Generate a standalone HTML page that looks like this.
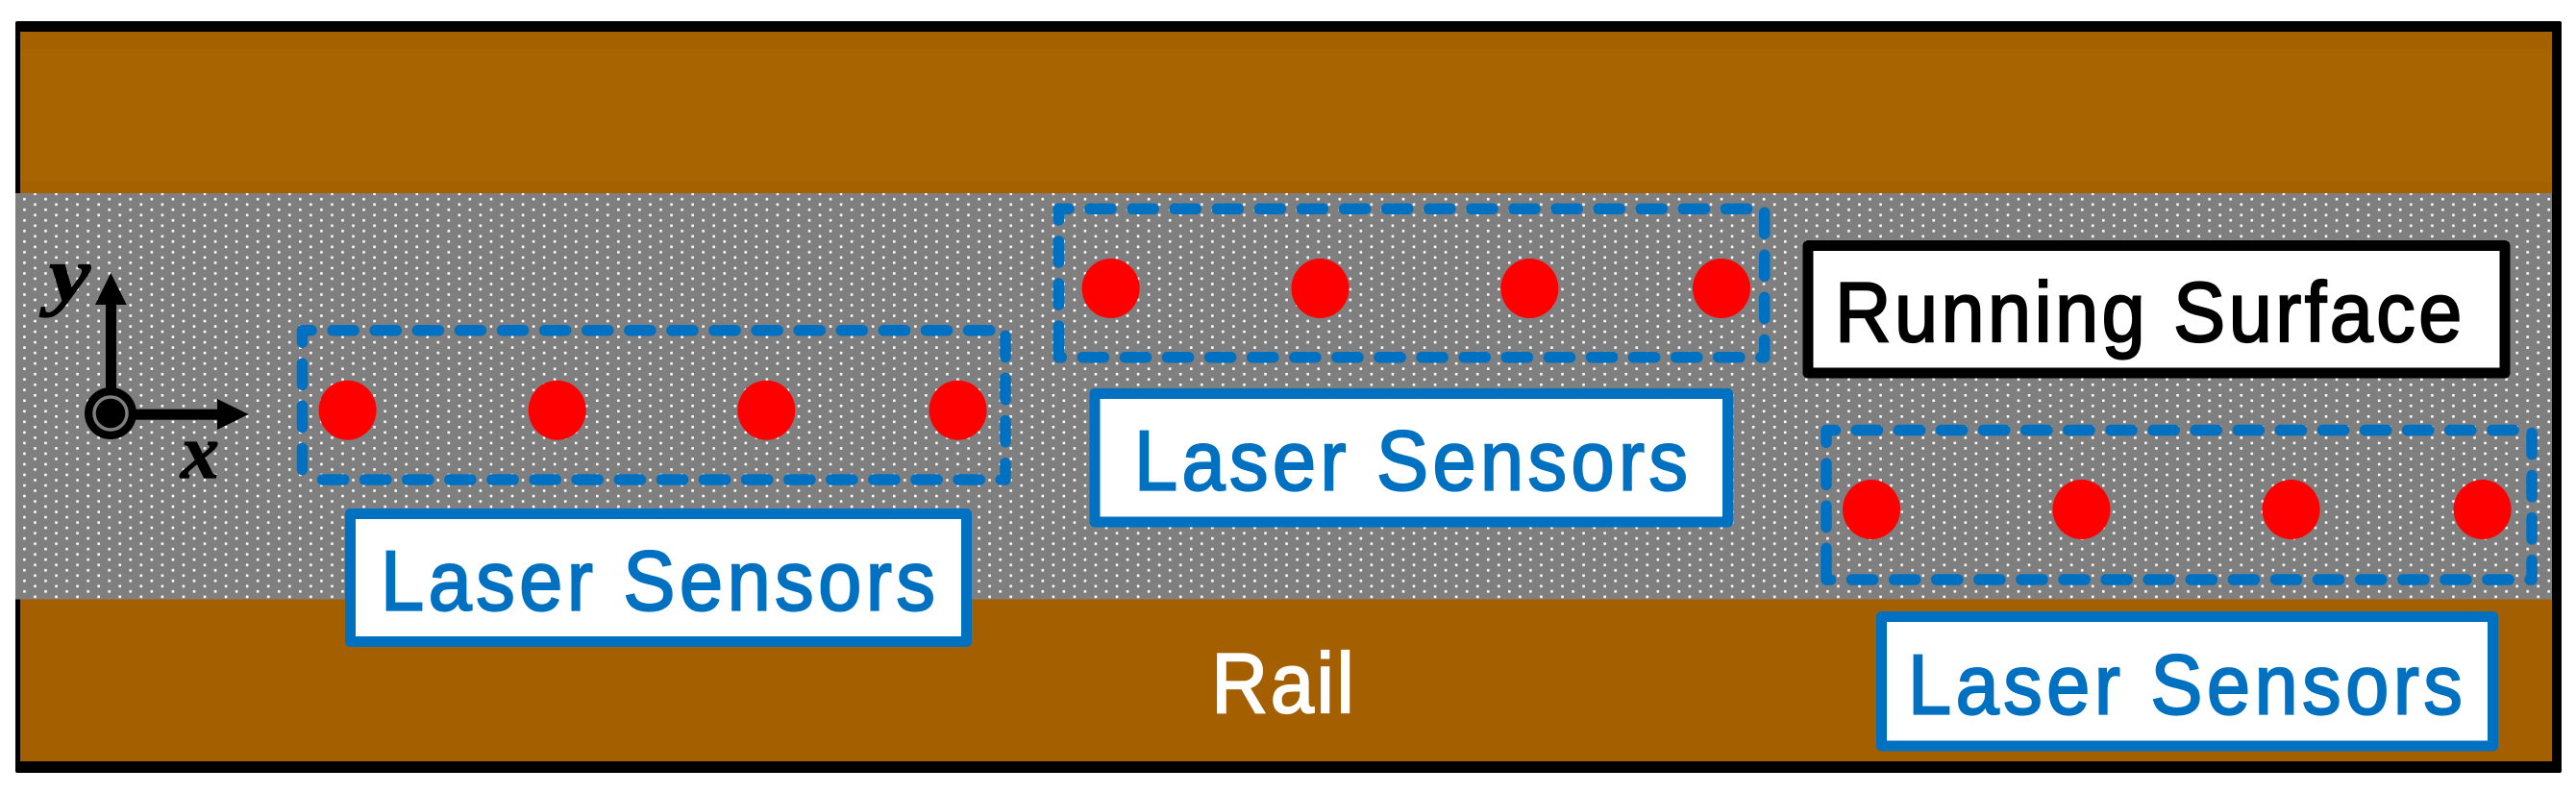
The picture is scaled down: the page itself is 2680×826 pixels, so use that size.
<!DOCTYPE html>
<html>
<head>
<meta charset="utf-8">
<title>Laser Sensors on Rail Running Surface</title>
<style>
html,body{margin:0;padding:0;background:#fff;width:2680px;height:826px;overflow:hidden}
svg{display:block}
.t{font-family:"Liberation Sans",sans-serif;font-size:88px}
.d{fill:none;stroke:#0070C0;stroke-width:11.5;stroke-linecap:round;stroke-linejoin:round;stroke-dasharray:22.1 22}
</style>
</head>
<body>
<svg width="2680" height="826" viewBox="0 0 2680 826" xmlns="http://www.w3.org/2000/svg">
<defs>
<pattern id="dots" patternUnits="userSpaceOnUse" x="8.9" y="198.95" width="22.07" height="11.03">
<rect x="4.2" y="1.45" width="2.6" height="2.6" rx=".4" fill="#fff"/>
<rect x="15.23" y="6.97" width="2.6" height="2.6" rx=".4" fill="#fff"/>
</pattern>
</defs>
<rect x="16" y="22" width="2649" height="782" rx="2" fill="#000"/>
<rect x="21" y="33" width="2634" height="168" fill="#A86400"/>
<rect x="21" y="33" width="2634" height="18" fill="#A56100"/>
<rect x="21" y="189" width="2634" height="12" fill="#A56100"/>
<rect x="21" y="623" width="2634" height="169" fill="#A35F00"/>
<rect x="16" y="201" width="2639" height="422.5" fill="#7F7F7F"/>
<rect x="16" y="201" width="2639" height="422.5" fill="url(#dots)"/>

<!-- axes -->
<rect x="110" y="315" width="11" height="95" fill="#000"/>
<polygon points="115.3,284 131.7,317 99,317" fill="#000"/>
<rect x="135" y="425.7" width="93" height="11" fill="#000"/>
<polygon points="258.7,431 226,415 226,447" fill="#000"/>
<circle cx="115" cy="430" r="27" fill="#000"/>
<circle cx="115" cy="430" r="17" fill="none" stroke="#7F7F7F" stroke-width="3.5"/>
<text x="51" y="313" font-family="'Liberation Serif',serif" font-weight="bold" font-style="italic" font-size="80" textLength="43" lengthAdjust="spacingAndGlyphs" fill="#000" stroke="#000" stroke-width="1.2">y</text>
<text x="188" y="497" font-family="'Liberation Serif',serif" font-weight="bold" font-style="italic" font-size="80" textLength="40" lengthAdjust="spacingAndGlyphs" fill="#000" stroke="#000" stroke-width="1.2">x</text>

<!-- dashed sensor groups -->
<path class="d" d="M314.5 488.5V343.7H1046V499H314.5"/>
<path class="d" d="M1101.4 361.2V217.3H1835.7V371.7H1101.4V361.2"/>
<path class="d" d="M1900 592.5V447.5H2634V603H1900V592.5"/>

<!-- sensors -->
<g fill="#FF0000">
<ellipse cx="361.6" cy="426.7" rx="30" ry="31"/>
<ellipse cx="579.7" cy="426.7" rx="30" ry="31"/>
<ellipse cx="797.3" cy="426.7" rx="30" ry="31"/>
<ellipse cx="996.6" cy="426.7" rx="30" ry="31"/>
<ellipse cx="1155.6" cy="300" rx="30" ry="31"/>
<ellipse cx="1373.5" cy="300" rx="30" ry="31"/>
<ellipse cx="1591.4" cy="300" rx="30" ry="31"/>
<ellipse cx="1791" cy="300" rx="30" ry="31"/>
<ellipse cx="1947" cy="530" rx="30" ry="31"/>
<ellipse cx="2165.5" cy="530" rx="30" ry="31"/>
<ellipse cx="2383.6" cy="530" rx="30" ry="31"/>
<ellipse cx="2582.6" cy="530" rx="30" ry="31"/>
</g>

<!-- label boxes -->
<g fill="#fff" stroke="#0070C0" stroke-width="11" stroke-linejoin="round">
<rect x="364.5" y="534.5" width="641" height="133"/>
<rect x="1139" y="409.5" width="658.5" height="133.5"/>
<rect x="1957.5" y="641.5" width="636" height="134.5"/>
</g>
<rect x="1881" y="255.5" width="725" height="132.5" fill="#fff" stroke="#000" stroke-width="11" stroke-linejoin="round"/>

<g fill="#0070C0" stroke="#0070C0" stroke-width="2.2">
<text class="t" transform="translate(396 634.5) scale(.92 1)" textLength="627" lengthAdjust="spacing">Laser Sensors</text>
<text class="t" transform="translate(1180 509.5) scale(.92 1)" textLength="626" lengthAdjust="spacing">Laser Sensors</text>
<text class="t" transform="translate(1985 742.5) scale(.92 1)" textLength="627" lengthAdjust="spacing">Laser Sensors</text>
</g>
<text class="t" transform="translate(1909 355) scale(.92 1)" textLength="709" lengthAdjust="spacing" fill="#000" stroke="#000" stroke-width="2.2">Running Surface</text>
<text class="t" transform="translate(1260.5 741.2) scale(.92 1)" textLength="161" lengthAdjust="spacing" fill="#fff" stroke="#fff" stroke-width="2.2">Rail</text>
</svg>
</body>
</html>
